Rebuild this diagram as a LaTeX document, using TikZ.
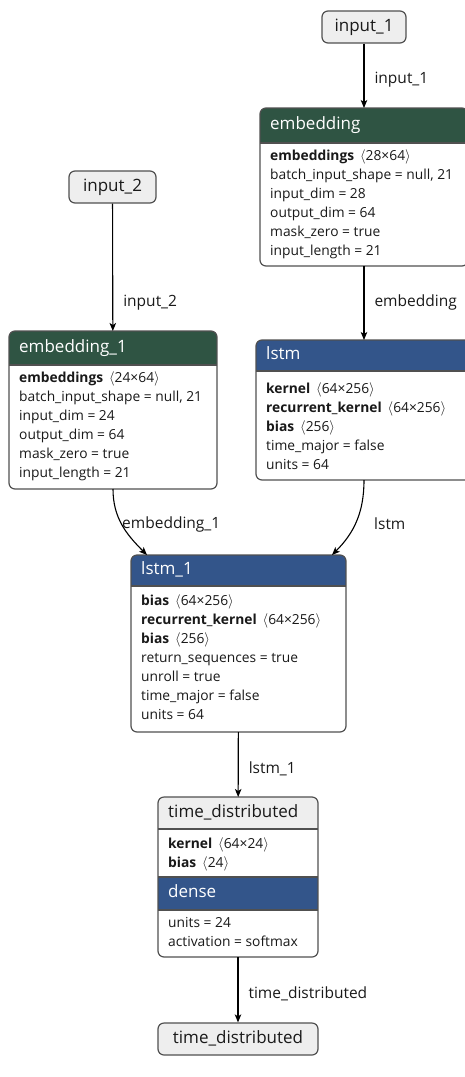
\documentclass[tikz,border=0pt]{standalone}
\usepackage{fontspec}
\setmainfont{Open Sans}
\usetikzlibrary{arrows.meta, calc, positioning}

\definecolor{embgreen}{RGB}{47,84,67}
\definecolor{lstmblue}{RGB}{51,85,138}
\definecolor{iogray}{RGB}{238,238,238}
\definecolor{rimgray}{RGB}{80,80,80}
\definecolor{inkgray}{RGB}{25,25,25}

\tikzset{
  iobox/.style={draw=rimgray, fill=iogray, line width=1.2pt, rounded corners=6pt,
    minimum height=32pt, inner sep=0pt, text=inkgray,
    font=\fontsize{17}{20}\selectfont, text height=12pt, text depth=4pt},
  layer/.style={fill=white, inner sep=0pt, outer sep=0pt},
  rim/.style={draw=rimgray, line width=1.2pt, rounded corners=6pt},
  sep/.style={draw=rimgray, line width=1.2pt},
  title/.style={anchor=west, inner sep=0pt, text=white,
    font=\fontsize{17}{20}\selectfont, text height=12pt, text depth=4pt},
  body/.style={anchor=north west, inner sep=0pt, align=left, text=inkgray,
    font=\fontsize{13.8}{19}\selectfont, execute at begin node={\rule{0pt}{11pt}}},
  edge/.style={-{Stealth[length=8pt, width=6.5pt, inset=2pt]}, line width=1.1pt},
  elabel/.style={anchor=west, inner sep=0pt, text=inkgray,
    font=\fontsize{15.5}{18}\selectfont, text height=11pt, text depth=3.5pt},
}
\newcommand{\wshape}[1]{\ \,$\langle$#1$\rangle$}
% coloured band inside a layer box: node, top, bottom, colour
\newcommand{\band}[4]{%
  \begin{scope}
    \clip[rounded corners=6pt] (#1.north west) rectangle (#1.south east);
    \fill[#4] ($(#1.north west)+(0,#2)$) rectangle ($(#1.north east)+(0,#3)$);
  \end{scope}
  \draw[sep] ($(#1.north west)+(0,#3)$) -- ($(#1.north east)+(0,#3)$);
}

\begin{document}
\begin{tikzpicture}[x=1pt, y=-1pt]
\useasboundingbox (0,0) rectangle (464,1077);

% --- inputs ---
\node[iobox, minimum width=84pt] (input1) at (364,27) {input\_1};
\node[iobox, minimum width=87pt] (input2) at (112.5,187) {input\_2};

% --- embedding ---
\node[layer, minimum width=208pt, minimum height=158pt] (emb) at (364,187) {};
\band{emb}{0}{35}{embgreen}
\draw[rim] (emb.north west) rectangle (emb.south east);
\node[title] (emb-title) at ($(emb.north west)+(10,17.5)$) {embedding};
\node[body] (emb-body) at ($(emb.north west)+(10,41.5)$) {%
  \textbf{embeddings}\wshape{28×64}\\
  batch\_input\_shape = null, 21\\
  input\_dim = 28\\
  output\_dim = 64\\
  mask\_zero = true\\
  input\_length = 21};

% --- embedding_1 ---
\node[layer, minimum width=208pt, minimum height=158pt] (emb1) at (113,410) {};
\band{emb1}{0}{34}{embgreen}
\draw[rim] (emb1.north west) rectangle (emb1.south east);
\node[title] (emb1-title) at ($(emb1.north west)+(10,17)$) {embedding\_1};
\node[body] (emb1-body) at ($(emb1.north west)+(10,40.5)$) {%
  \textbf{embeddings}\wshape{24×64}\\
  batch\_input\_shape = null, 21\\
  input\_dim = 24\\
  output\_dim = 64\\
  mask\_zero = true\\
  input\_length = 21};

% --- lstm ---
\node[layer, minimum width=216pt, minimum height=140pt] (lstm) at (364,410) {};
\band{lstm}{0}{31}{lstmblue}
\draw[rim] (lstm.north west) rectangle (lstm.south east);
\node[title] (lstm-title) at ($(lstm.north west)+(10,15.5)$) {lstm};
\node[body] (lstm-body) at ($(lstm.north west)+(10,42)$) {%
  \textbf{kernel}\wshape{64×256}\\
  \textbf{recurrent\_kernel}\wshape{64×256}\\
  \textbf{bias}\wshape{256}\\
  time\_major = false\\
  units = 64};

% --- lstm_1 ---
\node[layer, minimum width=215pt, minimum height=177pt] (lstm1) at (238.5,643.5) {};
\band{lstm1}{0}{31}{lstmblue}
\draw[rim] (lstm1.north west) rectangle (lstm1.south east);
\node[title] (lstm1-title) at ($(lstm1.north west)+(10,15.5)$) {lstm\_1};
\node[body] (lstm1-body) at ($(lstm1.north west)+(10,39.5)$) {%
  \textbf{bias}\wshape{64×256}\\
  \textbf{recurrent\_kernel}\wshape{64×256}\\
  \textbf{bias}\wshape{256}\\
  return\_sequences = true\\
  unroll = true\\
  time\_major = false\\
  units = 64};

% --- time_distributed (wrapping dense) ---
\node[layer, minimum width=160pt, minimum height=160pt] (td) at (238,877) {};
\band{td}{0}{32}{iogray}
\band{td}{80}{113}{lstmblue}
\draw[sep] ($(td.north west)+(0,80)$) -- ($(td.north east)+(0,80)$);
\draw[rim] (td.north west) rectangle (td.south east);
\node[title, text=inkgray] (td-title) at ($(td.north west)+(10,16)$) {time\_distributed};
\node[body] (td-body) at ($(td.north west)+(10,40.5)$) {%
  \textbf{kernel}\wshape{64×24}\\
  \textbf{bias}\wshape{24}};
\node[title] (dense-title) at ($(td.north west)+(10,96.5)$) {dense};
\node[body] (dense-body) at ($(td.north west)+(10,120.5)$) {%
  units = 24\\
  activation = softmax};

% --- output ---
\node[iobox, minimum width=160pt] (out) at (238,1039) {time\_distributed};

% --- connectors ---
\draw[edge] (input1) -- (emb) node[elabel, midway, xshift=10pt, yshift=-4pt] (l-input1) {input\_1};
\draw[edge] (input2) -- (emb1) node[elabel, pos=0.76, xshift=10pt, yshift=-2pt] (l-input2) {input\_2};
\draw[edge] (emb) -- (lstm) node[elabel, midway, xshift=10pt] (l-emb) {embedding};
\draw[edge] (emb1.south) to[out=-90, in=135] ($(lstm1.north west)+(16,0)$);
\node[elabel] (l-emb1) at ($(emb1.south)+(9,36)$) {embedding\_1};
\draw[edge] (lstm.south) to[out=-90, in=45] ($(lstm1.north east)+(-14,0)$);
\node[elabel] (l-lstm) at ($(lstm.south)+(10,46)$) {lstm};
\draw[edge] (lstm1) -- (td) node[elabel, midway, xshift=10pt, yshift=-5pt] (l-lstm1) {lstm\_1};
\draw[edge] (td) -- (out) node[elabel, midway, xshift=10pt, yshift=-5pt] (l-td) {time\_distributed};

\end{tikzpicture}
\end{document}
